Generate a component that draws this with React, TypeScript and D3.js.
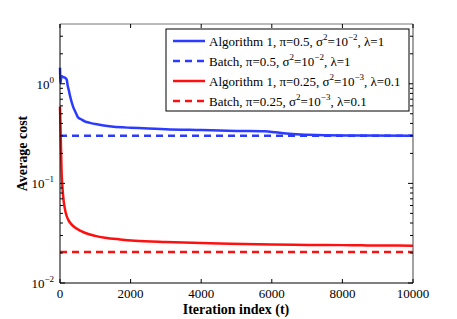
import React from 'react';
import * as d3 from 'd3';

// iteration index vs average cost
const blueIter = [0, 8, 15, 40, 80, 140, 190, 220, 250, 290, 370, 450, 510, 600, 700, 850, 1080, 1400, 1760, 2000, 2500, 3000, 4000, 5000, 5800, 6100, 6500, 7000, 7500, 8500, 10000];
const blueCost = [1.45, 1.15, 1.02, 1.2, 1.17, 1.15, 1.1, 0.95, 0.86, 0.74, 0.59, 0.51, 0.46, 0.44, 0.42, 0.405, 0.39, 0.375, 0.365, 0.362, 0.356, 0.35, 0.343, 0.336, 0.333, 0.326, 0.315, 0.308, 0.304, 0.302, 0.301];
const redIter = [0, 20, 45, 75, 110, 160, 235, 320, 425, 600, 800, 1000, 1270, 1700, 2125, 3000, 4000, 4820, 6000, 7000, 8000, 9000, 10000];
const redCost = [0.59, 0.3, 0.13, 0.085, 0.064, 0.051, 0.043, 0.039, 0.036, 0.0332, 0.031, 0.0297, 0.0285, 0.0274, 0.0266, 0.0258, 0.0252, 0.0248, 0.0243, 0.0241, 0.024, 0.0238, 0.0237];
const blueBatch = 0.301;
const redBatch = 0.0205;

const xTicks = [0, 2000, 4000, 6000, 8000, 10000];
const yDecades = [-2, -1, 0];
const legendRows = [
  { color: '#2b3bff', dash: '', label: 'Algorithm 1, π=0.5, σ', exp1: '2', mid: '=10', exp2: '−2', tail: ', λ=1' },
  { color: '#2b3bff', dash: '7,5', label: 'Batch, π=0.5, σ', exp1: '2', mid: '=10', exp2: '−2', tail: ', λ=1' },
  { color: '#ff1010', dash: '', label: 'Algorithm 1, π=0.25, σ', exp1: '2', mid: '=10', exp2: '−3', tail: ', λ=0.1' },
  { color: '#ff1010', dash: '7,5', label: 'Batch, π=0.25, σ', exp1: '2', mid: '=10', exp2: '−3', tail: ', λ=0.1' },
];

const serif = { fontFamily: "'Liberation Serif', 'DejaVu Serif', serif" };

export default function App() {
  const width = 457;
  const height = 319;
  const margin = { top: 24, right: 44, bottom: 36, left: 60 };
  const x = d3.scaleLinear().domain([0, 10000]).range([margin.left, width - margin.right]);
  const y = d3.scaleLog().domain([0.01, Math.pow(10, 0.6)]).range([height - margin.bottom, margin.top]);

  const line = d3.line<[number, number]>()
    .x(d => x(d[0]))
    .y(d => y(d[1]))
    .curve(d3.curveMonotoneX);

  const bluePts = blueIter.map((t, i) => [t, blueCost[i]] as [number, number]);
  const redPts = redIter.map((t, i) => [t, redCost[i]] as [number, number]);

  const minor: number[] = [];
  yDecades.forEach(e => {
    for (let k = 2; k <= 9; k++) {
      const v = k * Math.pow(10, e);
      if (v <= y.domain()[1]) minor.push(v);
    }
  });

  const x0 = x(0), x1 = x(10000), yb = y(0.01), yt = y(y.domain()[1]);
  const lx = 166, ly = 29, lw = 243, lh = 82;

  return (
    <svg width={width} height={height} style={{ position: 'absolute', left: 0, top: 0, background: '#fff' }}>
      <rect x={0} y={0} width={width} height={height} fill="#fff" />

      {/* batch references */}
      <line x1={x0} x2={x1} y1={y(blueBatch)} y2={y(blueBatch)} stroke="#2b3bff" strokeWidth={2.5} strokeDasharray="7,5" />
      <line x1={x0} x2={x1} y1={y(redBatch)} y2={y(redBatch)} stroke="#ff1010" strokeWidth={2.5} strokeDasharray="7,5" />

      {/* online curves */}
      <path d={line(bluePts) || ''} fill="none" stroke="#2b3bff" strokeWidth={2.5} />
      <path d={line(redPts) || ''} fill="none" stroke="#ff1010" strokeWidth={2.5} />

      {/* axes box */}
      <line x1={x0} x2={x1} y1={yt} y2={yt} stroke="#777" strokeWidth={1} />
      <line x1={x1} x2={x1} y1={yt} y2={yb} stroke="#444" strokeWidth={1} />
      <line x1={x0} x2={x1} y1={yb} y2={yb} stroke="#000" strokeWidth={1} />
      <line x1={x0} x2={x0} y1={yt} y2={yb} stroke="#000" strokeWidth={1} />

      {xTicks.map(t => (
        <g key={t}>
          <line x1={x(t)} x2={x(t)} y1={yb} y2={yb - 4} stroke="#000" />
          <line x1={x(t)} x2={x(t)} y1={yt} y2={yt + 4} stroke="#000" />
          <text x={x(t)} y={yb + 15} textAnchor="middle" fontSize={13} style={serif}>{t}</text>
        </g>
      ))}

      {yDecades.map(e => (
        <g key={e}>
          <line x1={x0} x2={x0 + 5} y1={y(Math.pow(10, e))} y2={y(Math.pow(10, e))} stroke="#000" />
          <line x1={x1} x2={x1 - 5} y1={y(Math.pow(10, e))} y2={y(Math.pow(10, e))} stroke="#000" />
          <text x={x0 - 6} y={y(Math.pow(10, e)) + 5} textAnchor="end" fontSize={13} style={serif}>
            10<tspan fontSize={9} dy={-6}>{e === 0 ? '0' : '−' + Math.abs(e)}</tspan>
          </text>
        </g>
      ))}
      {minor.map(v => (
        <g key={v}>
          <line x1={x0} x2={x0 + 3} y1={y(v)} y2={y(v)} stroke="#000" />
          <line x1={x1} x2={x1 - 3} y1={y(v)} y2={y(v)} stroke="#000" />
        </g>
      ))}

      <text x={236} y={314} textAnchor="middle" fontSize={14} fontWeight="bold" style={serif}>Iteration index (t)</text>
      <text transform={`translate(27,${(yt + yb) / 2}) rotate(-90)`} textAnchor="middle" fontSize={14} fontWeight="bold" style={serif}>Average cost</text>

      {/* legend */}
      <rect x={lx} y={ly} width={lw} height={lh} fill="#fff" stroke="#000" strokeWidth={1} />
      {legendRows.map((r, i) => {
        const ry = ly + 12 + i * 20;
        return (
          <g key={i}>
            <line x1={lx + 7} x2={lx + 39} y1={ry} y2={ry} stroke={r.color} strokeWidth={2.5} strokeDasharray={r.dash || undefined} />
            <text x={lx + 43} y={ry + 4.5} fontSize={13} style={serif}>
              {r.label}
              <tspan fontSize={9} dy={-6}>{r.exp1}</tspan>
              <tspan dy={6}>{r.mid}</tspan>
              <tspan fontSize={9} dy={-6}>{r.exp2}</tspan>
              <tspan dy={6}>{r.tail}</tspan>
            </text>
          </g>
        );
      })}
    </svg>
  );
}
